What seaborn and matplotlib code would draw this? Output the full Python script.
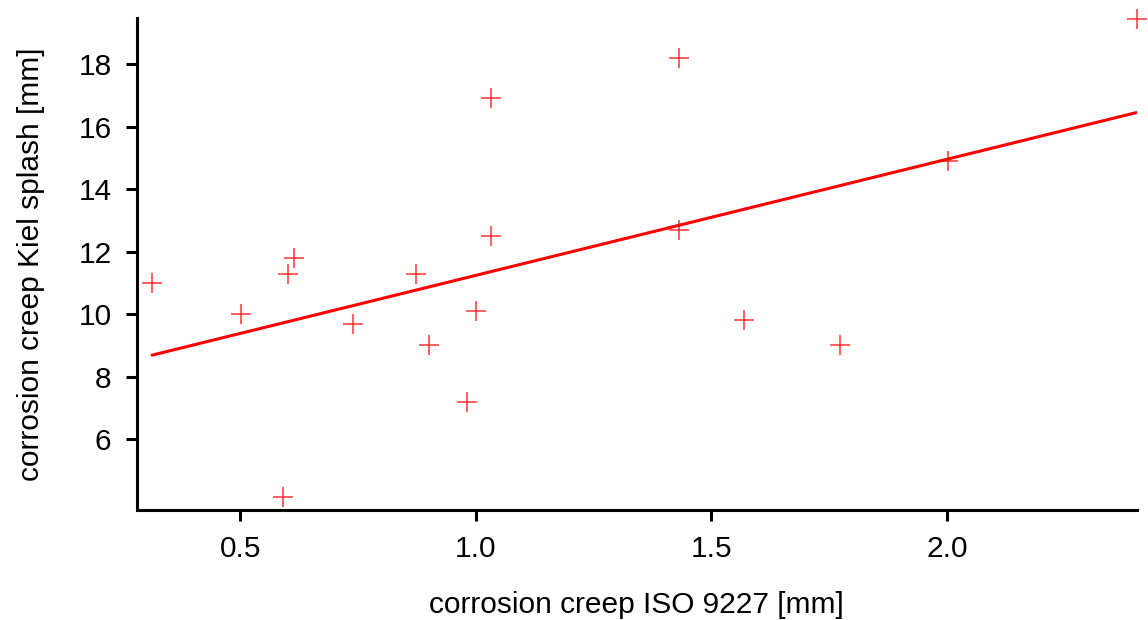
import numpy as np
import pandas as pd
import matplotlib
matplotlib.use("Agg")
import matplotlib.pyplot as plt
import seaborn as sns

# corrosion creep values
iso_9227 = [0.313, 0.502, 0.591, 0.602, 0.613, 0.740, 0.872, 0.901, 0.982,
            1.001, 1.033, 1.033, 1.432, 1.432, 1.570, 1.772, 2.001, 2.402]
kiel_splash = [11.0, 10.0, 4.14, 11.3, 11.8, 9.7, 11.3, 9.0, 7.2,
               10.1, 12.5, 16.9, 18.2, 12.7, 9.8, 9.0, 14.9, 19.45]

df = pd.DataFrame({"iso": iso_9227, "kiel": kiel_splash})

sns.set_style("ticks")
plt.rcParams['font.family'] = ['Liberation Sans', 'DejaVu Sans']
plt.rcParams['text.color'] = 'black'
plt.rcParams['axes.labelcolor'] = 'black'
plt.rcParams['xtick.color'] = 'black'
plt.rcParams['ytick.color'] = 'black'

fig, ax = plt.subplots(figsize=(11.48, 6.2), dpi=100)
fig.subplots_adjust(left=0.119, right=0.99, top=0.971, bottom=0.177)

sns.regplot(data=df, x="iso", y="kiel", ax=ax, ci=None, truncate=True,
            marker="+", color="#ff0000",
            scatter_kws={"s": 220, "linewidths": 1.1, "clip_on": False},
            line_kws={"linewidth": 2.2})

ax.set_xlim(0.28, 2.402)
ax.set_ylim(3.73, 19.47)
ax.set_xticks([0.5, 1.0, 1.5, 2.0])
ax.set_yticks([6, 8, 10, 12, 14, 16, 18])
ax.set_xlabel("corrosion creep ISO 9227 [mm]", fontsize=21.5, labelpad=20)
ax.set_ylabel("corrosion creep Kiel splash [mm]", fontsize=21.5, labelpad=24)
ax.tick_params(labelsize=21.5, width=2.2, length=8, direction="out", pad=10)
for s in ["left", "bottom"]:
    ax.spines[s].set_linewidth(2.2)
    ax.spines[s].set_color("black")
sns.despine(ax=ax)

fig.savefig("out.png")
